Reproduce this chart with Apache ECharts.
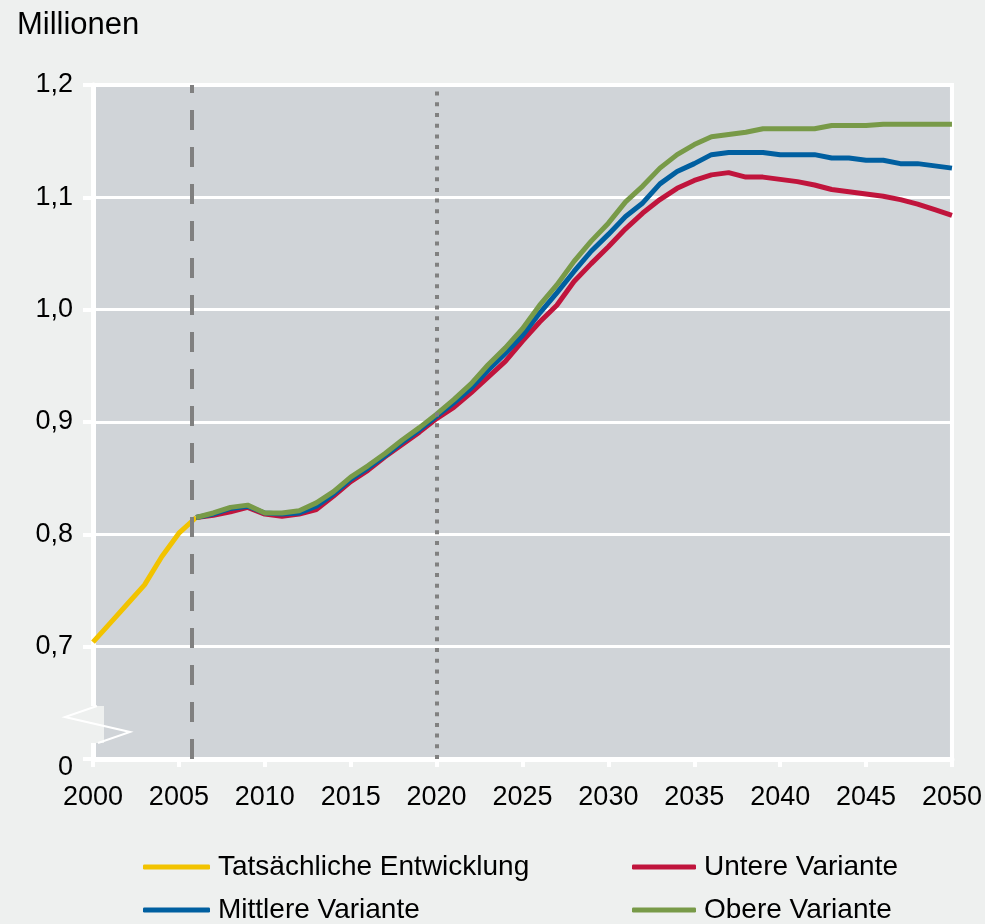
<!DOCTYPE html>
<html>
<head>
<meta charset="utf-8">
<script src="https://cdn.jsdelivr.net/npm/echarts@6/dist/echarts.min.js"></script>
<style>
  html, body { margin: 0; padding: 0; background: #eef0ef; }
  #chart { width: 985px; height: 924px; }
</style>
</head>
<body>
<div id="chart"></div>
<script>
// Daten
const actualYears = [2000, 2001, 2002, 2003, 2004, 2005, 2006]
const actualValues = [0.704, 0.721, 0.738, 0.755, 0.780, 0.801, 0.815]

const variantStart = 2006
const untere = [0.815, 0.817, 0.820, 0.824, 0.818, 0.816, 0.818, 0.822, 0.834, 0.847,
  0.857, 0.869, 0.880, 0.891, 0.903, 0.913, 0.926, 0.940, 0.954, 0.972,
  0.989, 1.004, 1.025, 1.041, 1.056, 1.072, 1.086, 1.098, 1.108, 1.115,
  1.120, 1.122, 1.118, 1.118, 1.116, 1.114, 1.111, 1.107, 1.105, 1.103,
  1.101, 1.098, 1.094, 1.089, 1.084]
const mittlere = [0.815, 0.818, 0.823, 0.825, 0.819, 0.818, 0.819, 0.825, 0.836, 0.849,
  0.859, 0.870, 0.882, 0.893, 0.905, 0.917, 0.930, 0.946, 0.961, 0.977,
  0.997, 1.015, 1.034, 1.052, 1.067, 1.083, 1.095, 1.112, 1.123, 1.130,
  1.138, 1.140, 1.140, 1.140, 1.138, 1.138, 1.138, 1.135, 1.135, 1.133,
  1.133, 1.130, 1.130, 1.128, 1.126]
const obere = [0.815, 0.819, 0.824, 0.826, 0.819, 0.819, 0.821, 0.828, 0.838, 0.851,
  0.861, 0.872, 0.884, 0.895, 0.907, 0.920, 0.934, 0.951, 0.966, 0.983,
  1.004, 1.022, 1.043, 1.061, 1.077, 1.096, 1.110, 1.126, 1.138, 1.147,
  1.154, 1.156, 1.158, 1.161, 1.161, 1.161, 1.161, 1.164, 1.164, 1.164,
  1.165, 1.165, 1.165, 1.165, 1.165]

const xTicks = [2000, 2005, 2010, 2015, 2020, 2025, 2030, 2035, 2040, 2045, 2050]
const yTicks = [0.6, 0.7, 0.8, 0.9, 1.0, 1.1, 1.2]
const dashedYear = 2005.75
const dottedYear = 2020

const names = ['Tatsächliche Entwicklung', 'Untere Variante', 'Mittlere Variante', 'Obere Variante']
const colors = ['#f2c300', '#c0143c', '#005fa0', '#789a48']

function pairs(start, values) {
  return values.map((v, i) => [start + i, v])
}

const font = 'Liberation Sans, Arial, sans-serif'
const chart = echarts.init(document.getElementById('chart'))

const legendText = { fontFamily: font, fontSize: 28, color: '#000', padding: [0, 0, 0, 3] }

chart.setOption({
  backgroundColor: '#eef0ef',
  animation: false,
  title: {
    text: 'Millionen',
    left: 12,
    top: 5,
    textStyle: { fontFamily: font, fontSize: 31, fontWeight: 'normal', color: '#000' }
  },
  grid: {
    left: 93, right: 32, top: 85, bottom: 165,
    show: true,
    backgroundColor: '#d0d4d8',
    borderColor: '#fff',
    borderWidth: 4
  },
  xAxis: {
    type: 'value',
    min: xTicks[0],
    max: xTicks[xTicks.length - 1],
    interval: 5,
    axisLine: { lineStyle: { color: '#fff', width: 5 } },
    axisTick: { length: 8, lineStyle: { color: '#fff', width: 4 } },
    splitLine: { show: false },
    axisLabel: {
      margin: 25, color: '#000', fontFamily: font, fontSize: 27,
      formatter: v => String(v)
    }
  },
  yAxis: {
    type: 'value',
    min: yTicks[0],
    max: yTicks[yTicks.length - 1],
    interval: 0.1,
    axisLine: { show: true, lineStyle: { color: '#fff', width: 5 } },
    axisTick: { show: true, length: 10, lineStyle: { color: '#fff', width: 4 } },
    splitLine: { lineStyle: { color: '#fff', width: 3 } },
    axisLabel: {
      margin: 20, color: '#000', fontFamily: font, fontSize: 27,
      formatter: v => Math.abs(v - yTicks[0]) < 1e-9 ? '{z|0}' : v.toFixed(1).replace('.', ','),
      rich: { z: { fontFamily: font, fontSize: 27, color: '#000', padding: [18, 0, 0, 0] } }
    }
  },
  legend: [
    {
      data: [names[0], names[2]],
      orient: 'vertical',
      left: 138, top: 848, height: 120,
      icon: 'roundRect',
      itemWidth: 67, itemHeight: 5, itemGap: 15,
      textStyle: legendText
    },
    {
      data: [names[1], names[3]],
      orient: 'vertical',
      left: 627, top: 848, height: 120,
      icon: 'roundRect',
      itemWidth: 64, itemHeight: 5, itemGap: 15,
      textStyle: legendText
    }
  ],
  graphic: [
    { type: 'rect', shape: { x: 90, y: 706, width: 14, height: 37 }, style: { fill: '#eef0ef' }, z: 100 },
    {
      type: 'polyline',
      shape: { points: [[97, 706], [65, 717], [130, 732], [98, 743]] },
      style: { stroke: '#fff', lineWidth: 2, fill: null },
      z: 101
    }
  ],
  series: [
    {
      name: names[0], type: 'line', symbol: 'none',
      data: actualYears.map((y, i) => [y, actualValues[i]]),
      itemStyle: { color: colors[0] },
      lineStyle: { color: colors[0], width: 5 },
      markLine: {
        silent: true, symbol: 'none', label: { show: false },
        data: [
          { xAxis: dashedYear, lineStyle: { color: '#808080', width: 4, type: [20, 17] } },
          { xAxis: dottedYear, lineStyle: { color: '#808080', width: 4, type: [4, 6.7] } }
        ]
      }
    },
    {
      name: names[1], type: 'line', symbol: 'none',
      data: pairs(variantStart, untere),
      itemStyle: { color: colors[1] },
      lineStyle: { color: colors[1], width: 5 }
    },
    {
      name: names[2], type: 'line', symbol: 'none',
      data: pairs(variantStart, mittlere),
      itemStyle: { color: colors[2] },
      lineStyle: { color: colors[2], width: 5 }
    },
    {
      name: names[3], type: 'line', symbol: 'none',
      data: pairs(variantStart, obere),
      itemStyle: { color: colors[3] },
      lineStyle: { color: colors[3], width: 5 }
    }
  ]
})
</script>
</body>
</html>
